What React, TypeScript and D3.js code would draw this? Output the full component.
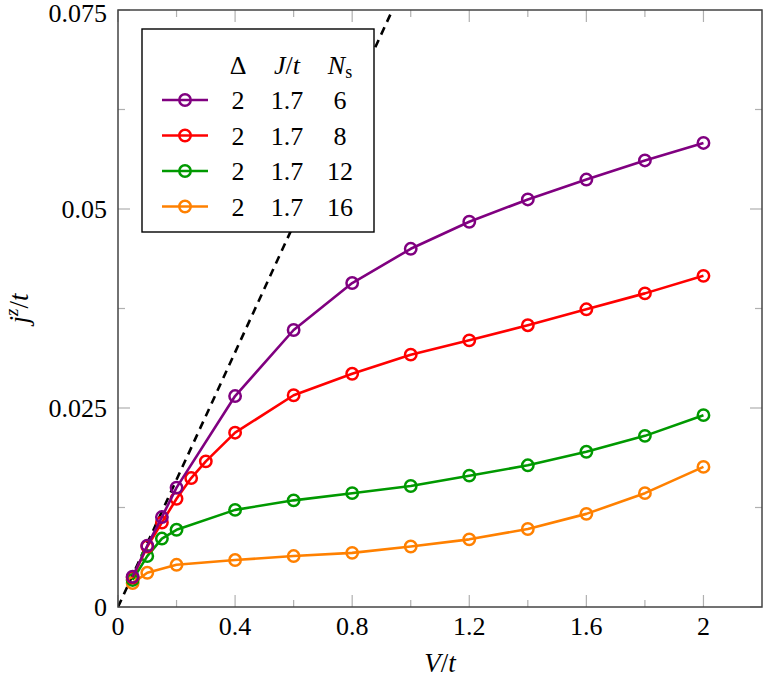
import React, { useEffect, useRef } from "react"
import * as d3 from "d3"

// chart values
const vPurple = [0.05, 0.1, 0.15, 0.2, 0.4, 0.6, 0.8, 1.0, 1.2, 1.4, 1.6, 1.8, 2.0]
const jPurple = [0.0038, 0.0077, 0.0113, 0.015, 0.0265, 0.0348, 0.0407, 0.045, 0.0484, 0.0512, 0.0537, 0.0561, 0.0583]

const vRed = [0.05, 0.1, 0.15, 0.2, 0.25, 0.3, 0.4, 0.6, 0.8, 1.0, 1.2, 1.4, 1.6, 1.8, 2.0]
const jRed = [0.0037, 0.0076, 0.0106, 0.0136, 0.0162, 0.0183, 0.0219, 0.0266, 0.0293, 0.0317, 0.0335, 0.0354, 0.0374, 0.0394, 0.0416]

const vGreen = [0.05, 0.1, 0.15, 0.2, 0.4, 0.6, 0.8, 1.0, 1.2, 1.4, 1.6, 1.8, 2.0]
const jGreen = [0.0034, 0.0064, 0.0086, 0.0097, 0.0122, 0.0134, 0.0143, 0.0152, 0.0165, 0.0178, 0.0195, 0.0215, 0.0241]

const vOrange = [0.05, 0.1, 0.2, 0.4, 0.6, 0.8, 1.0, 1.2, 1.4, 1.6, 1.8, 2.0]
const jOrange = [0.003, 0.0043, 0.0053, 0.0059, 0.0064, 0.0068, 0.0076, 0.0085, 0.0098, 0.0117, 0.0143, 0.0176]

// dashed reference line j = 0.08 V
const vDashed = [0, 1]
const jDashed = [0, 0.08]

const seriesNames = ["6", "8", "12", "16"]
const seriesColors = ["#800080", "#ff0000", "#009900", "#ff8000"]
const deltaValues = ["2", "2", "2", "2"]
const jValues = ["1.7", "1.7", "1.7", "1.7"]

const xMajor = [0, 0.4, 0.8, 1.2, 1.6, 2]
const xMinor = [0.2, 0.6, 1.0, 1.4, 1.8]
const yMajor = [0, 0.025, 0.05, 0.075]
const yMinor = [0.0125, 0.0375, 0.0625]
const yLabels = ["0", "0.025", "0.05", "0.075"]

const W = 764
const H = 680
const margin = { top: 10, right: 2, bottom: 73, left: 118 }
const font = '"Liberation Serif", "DejaVu Serif", "Times New Roman", serif'

export default function App() {
  const svgRef = useRef<SVGSVGElement | null>(null)

  useEffect(() => {
    document.body.style.margin = "0"
    if (!svgRef.current) return
    const svg = d3.select(svgRef.current)
    svg.selectAll("*").remove()

    const width = W - margin.left - margin.right
    const height = H - margin.top - margin.bottom

    const x = d3.scaleLinear().domain([0, 2.2]).range([margin.left, margin.left + width])
    const y = d3.scaleLinear().domain([0, 0.075]).range([margin.top + height, margin.top])

    svg.append("rect").attr("width", W).attr("height", H).attr("fill", "white")

    svg.append("defs").append("clipPath").attr("id", "plot-clip")
      .append("rect")
      .attr("x", x(0)).attr("y", y(0.075))
      .attr("width", width).attr("height", height)

    // ticks (inward, on all four sides)
    const ticks = svg.append("g").attr("stroke", "#b0b0b0").attr("stroke-width", 1.2)
    const tickSet = (vals: number[], len: number) => {
      vals.forEach((v) => {
        ticks.append("line").attr("x1", x(v)).attr("x2", x(v)).attr("y1", y(0)).attr("y2", y(0) - len)
        ticks.append("line").attr("x1", x(v)).attr("x2", x(v)).attr("y1", y(0.075)).attr("y2", y(0.075) + len)
      })
    }
    const tickSetY = (vals: number[], len: number) => {
      vals.forEach((v) => {
        ticks.append("line").attr("y1", y(v)).attr("y2", y(v)).attr("x1", x(0)).attr("x2", x(0) + len)
        ticks.append("line").attr("y1", y(v)).attr("y2", y(v)).attr("x1", x(2.2)).attr("x2", x(2.2) - len)
      })
    }
    tickSet(xMajor, 12)
    tickSet(xMinor, 7)
    tickSetY(yMajor, 12)
    tickSetY(yMinor, 7)

    const plot = svg.append("g").attr("clip-path", "url(#plot-clip)")

    // dashed line
    const line = d3.line<[number, number]>().x((d) => x(d[0])).y((d) => y(d[1]))
    plot.append("path")
      .datum(vDashed.map((v, i) => [v, jDashed[i]] as [number, number]))
      .attr("d", line)
      .attr("fill", "none")
      .attr("stroke", "black")
      .attr("stroke-width", 2.6)
      .attr("stroke-dasharray", "8,6")

    const series = [
      { v: vPurple, j: jPurple },
      { v: vRed, j: jRed },
      { v: vGreen, j: jGreen },
      { v: vOrange, j: jOrange },
    ]

    // last series first, so purple ends on top
    for (let s = series.length - 1; s >= 0; s--) {
      const pts = series[s].v.map((v, i) => [v, series[s].j[i]] as [number, number])
      const g = plot.append("g")
      g.append("path")
        .datum(pts)
        .attr("d", line)
        .attr("fill", "none")
        .attr("stroke", seriesColors[s])
        .attr("stroke-width", 2.6)
        .attr("stroke-linejoin", "round")
      g.selectAll("circle")
        .data(pts)
        .join("circle")
        .attr("cx", (d) => x(d[0]))
        .attr("cy", (d) => y(d[1]))
        .attr("r", 5.7)
        .attr("fill", "none")
        .attr("stroke", seriesColors[s])
        .attr("stroke-width", 2.5)
    }

    // frame
    svg.append("rect")
      .attr("x", x(0)).attr("y", y(0.075))
      .attr("width", width).attr("height", height)
      .attr("fill", "none")
      .attr("stroke", "#444")
      .attr("stroke-width", 1.5)

    // tick labels
    const labels = svg.append("g").style("font-family", font).attr("font-size", 26).attr("fill", "black")
    xMajor.forEach((v) => {
      labels.append("text").attr("x", x(v)).attr("y", y(0) + 28).attr("text-anchor", "middle").text(String(v))
    })
    yMajor.forEach((v, i) => {
      labels.append("text")
        .attr("x", x(0) - 11)
        .attr("y", Math.max(y(v) + 9, 22))
        .attr("text-anchor", "end")
        .text(yLabels[i])
    })

    // axis titles
    const xt = svg.append("text")
      .attr("x", x(1.1)).attr("y", 672)
      .attr("text-anchor", "middle")
      .style("font-family", font).attr("font-size", 27).attr("font-style", "italic")
    xt.append("tspan").text("V")
    xt.append("tspan").attr("font-style", "normal").text("/")
    xt.append("tspan").text("t")

    const yt = svg.append("text")
      .attr("transform", `translate(28,${(y(0) + y(0.075)) / 2}) rotate(-90)`)
      .attr("text-anchor", "middle")
      .style("font-family", font).attr("font-size", 27).attr("font-style", "italic")
    yt.append("tspan").text("j")
    yt.append("tspan").attr("font-size", 19).attr("dy", -10).text("z")
    yt.append("tspan").attr("dy", 10).attr("font-style", "normal").text("/")
    yt.append("tspan").text("t")

    // legend
    const lg = svg.append("g")
    lg.append("rect")
      .attr("x", 142).attr("y", 29)
      .attr("width", 232).attr("height", 203)
      .attr("fill", "white")
      .attr("stroke", "black")
      .attr("stroke-width", 1.4)

    const colDelta = 238
    const colJ = 287
    const colN = 340
    const lt = lg.append("g").style("font-family", font).attr("font-size", 26).attr("text-anchor", "middle")
    lt.append("text").attr("x", colDelta).attr("y", 74).text("Δ")
    const jh = lt.append("text").attr("x", colJ).attr("y", 74).attr("font-style", "italic")
    jh.append("tspan").text("J")
    jh.append("tspan").attr("font-style", "normal").text("/")
    jh.append("tspan").text("t")
    const nh = lt.append("text").attr("x", colN).attr("y", 74)
    nh.append("tspan").attr("font-style", "italic").text("N")
    nh.append("tspan").attr("font-size", 18).attr("dy", 4).text("s")

    const rowY = [100, 135.5, 171, 206.5]
    seriesNames.forEach((name, i) => {
      lg.append("line")
        .attr("x1", 162).attr("x2", 208)
        .attr("y1", rowY[i]).attr("y2", rowY[i])
        .attr("stroke", seriesColors[i]).attr("stroke-width", 2.6)
      lg.append("circle")
        .attr("cx", 185).attr("cy", rowY[i]).attr("r", 5.7)
        .attr("fill", "none").attr("stroke", seriesColors[i]).attr("stroke-width", 2.5)
      lt.append("text").attr("x", colDelta).attr("y", rowY[i] + 9).text(deltaValues[i])
      lt.append("text").attr("x", colJ).attr("y", rowY[i] + 9).text(jValues[i])
      lt.append("text").attr("x", colN).attr("y", rowY[i] + 9).text(name)
    })
  }, [])

  return <svg ref={svgRef} width={W} height={H} style={{ display: "block" }} />
}
